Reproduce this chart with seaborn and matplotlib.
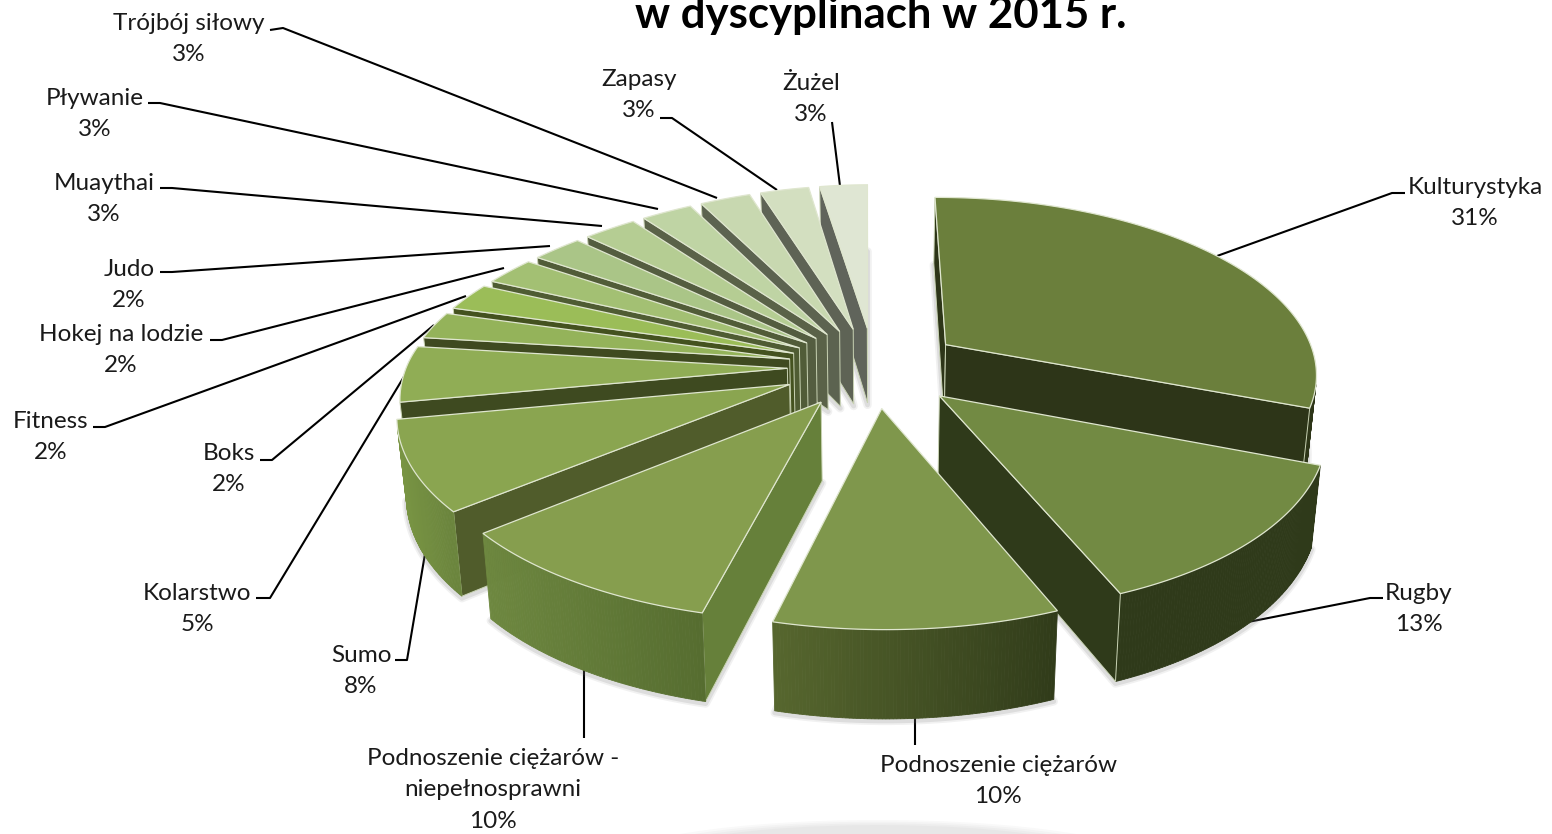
import numpy as np
import pandas as pd
import seaborn as sns
import matplotlib
matplotlib.use('Agg')
import matplotlib.pyplot as plt
from matplotlib.patches import Ellipse

names = ['Kulturystyka', 'Rugby', 'Podnoszenie ciężarów',
         'Podnoszenie ciężarów -\nniepełnosprawni', 'Sumo', 'Kolarstwo', 'Boks',
         'Fitness', 'Hokej na lodzie', 'Judo', 'Muaythai', 'Pływanie',
         'Trójbój siłowy', 'Zapasy', 'Żużel']
# labels only give whole percents, the small slices look closer to 2.4 - 2.7
shares = [30.7, 13.0, 10.0, 10.0, 8.0, 5.0, 2.4, 2.4, 2.4, 2.4, 2.6, 2.6, 2.7, 2.7, 2.7]

top_colors = ['#6b7f3c', '#728a43', '#7f974c', '#869e4e', '#8aa550', '#90ad55', '#94b35a',
              '#9bbd58', '#a3c073', '#aac587', '#b5cd93', '#bfd4a4', '#c8d8b0', '#d3dfc0', '#dfe6d3']
cut_colors = ['#2d3518', '#2f3a1a', '#313c1a', '#66803a', '#505c2b', '#3e4a20', '#3f4a20',
              '#44521f', '#4f5c33', '#515c38', '#545d40', '#5a6248', '#5c6350', '#5e6355', '#60645b']
wall_left = ['#2d3518', '#2f3a1a', '#56662e', '#6e8840', '#7a9644', '#7a9644', '#7a9644',
             '#7a9644', '#7a9644', '#7a9644', '#7a9644', '#7a9644', '#7a9644', '#7a9644', '#7a9644']
wall_right = ['#2d3518', '#2f3a1a', '#313c1a', '#566d30', '#6b853d', '#6b853d', '#6b853d',
              '#6b853d', '#6b853d', '#6b853d', '#6b853d', '#6b853d', '#6b853d', '#6b853d', '#6b853d']

# label centre, then the leader line from the label to the slice
label_xy = [(1475, 203), (1419, 609), (998, 781), (493, 790), (361, 671), (197, 609), (229, 469),
            (51, 437), (121, 350), (129, 285), (104, 199), (95, 114), (189, 39), (639, 95), (811, 99)]
leaders = [[(1405, 193), (1392, 193), (1217, 256)],
           [(1383, 598), (1370, 598), (1248, 622)],
           [(915, 745), (915, 716)],
           [(584, 738), (584, 665)],
           [(395, 660), (407, 660), (426, 548)],
           [(256, 598), (270, 598), (405, 375)],
           [(260, 460), (272, 460), (434, 325)],
           [(93, 427), (105, 427), (466, 296)],
           [(210, 340), (222, 340), (504, 268)],
           [(160, 272), (172, 272), (550, 246)],
           [(160, 188), (172, 188), (602, 226)],
           [(148, 103), (160, 103), (658, 209)],
           [(270, 30), (283, 28), (717, 198)],
           [(660, 118), (672, 118), (777, 190)],
           [(832, 122), (840, 186)]]

df = pd.DataFrame({'name': names, 'share': shares})
df['frac'] = df.share / df.share.sum()
df['start'] = df.frac.cumsum().shift(fill_value=0) * 2 * np.pi
df['end'] = df.frac.cumsum() * 2 * np.pi

# view settings of the 3d pie
cx, cy = 875, 367
a, b = 381, 175
shear = 2
persp = 0.147
depth = 77
explode = 0.23
# the two slices left of the front one sit a bit further out
extra_explode = {3: 0.03, 4: 0.015}


def project(X, Y, Z):
    w = 1 + persp * Y
    # far left slices squeeze together more than plain perspective gives
    wx = w * np.where((X < 0) & (Y > 0), 1 + 0.1 * Y ** 2, 1)
    Xs = X - 0.03 * np.maximum(X - 0.4, 0)
    x = cx + a * Xs / wx - shear * Y / w
    y = cy - b * Y / w
    x = cx + (x - cx) * (1 - 0.02 * Z)
    y = y + depth * Z * (1 - 0.13 * Y)
    return np.column_stack([x, y])


def area(p):
    return 0.5 * np.sum(p[:, 0] * np.roll(p[:, 1], -1) - np.roll(p[:, 0], -1) * p[:, 1])


sns.set_theme(style='white')
plt.rcParams['font.family'] = ['Lato', 'DejaVu Sans']

fig = plt.figure(figsize=(15.52, 8.34), dpi=100, facecolor='white')
ax = fig.add_axes([0, 0, 1, 1])
ax.set_xlim(0, 1552)
ax.set_ylim(834, 0)
ax.axis('off')

# faint floor shadow at the bottom edge
for k, al in zip([1.0, 0.96, 0.92, 0.88], [0.12, 0.14, 0.16, 0.18]):
    ax.add_patch(Ellipse((878, 862), 530 * k, 84 * k, color='#cfcfcf', alpha=al, lw=0, zorder=0))

for line, name, share, xy in zip(leaders, names, shares, label_xy):
    pts = np.array(line)
    ax.plot(pts[:, 0], pts[:, 1], color='black', lw=1.5, zorder=1, solid_capstyle='butt')
    ax.text(xy[0], xy[1], f'{name}\n{share:.0f}%', ha='center', va='center', fontsize=17.5,
            linespacing=1.62, color='#1a1a1a', zorder=3)

ax.text(881, 28, 'w dyscyplinach w 2015 r.', ha='center', va='baseline', fontsize=31.5,
        fontweight='bold', color='black', zorder=3)

# far slices first so the near ones cover them
mid = (df.start + df.end) / 2
order = np.argsort(-np.cos(mid.values))
z = 2
for i in order:
    row = df.iloc[i]
    m = (row.start + row.end) / 2
    ex = (explode + extra_explode.get(i, 0)) * np.sin(m)
    ey = explode * np.cos(m)
    n = max(6, int(row.share * 8))
    t = np.linspace(row.start, row.end, n)
    X = np.r_[ex, ex + np.sin(t)]
    Y = np.r_[ey, ey + np.cos(t)]
    top = project(X, Y, 0 * X)
    bot = project(X, Y, 0 * X + 1)
    sign = np.sign(area(top))

    # soft shadow around the base
    for lw, al in [(6, 0.10), (3.5, 0.16)]:
        ax.fill(bot[:, 0], bot[:, 1] + 2, facecolor='none', edgecolor='#777777', lw=lw, alpha=al,
                zorder=z, joinstyle='round')
    z += 1

    grad = sns.blend_palette([wall_left[i], wall_right[i]], n)
    xr = top[1:, 0]
    m_pts = len(X)
    for j in range(m_pts):
        q = (j + 1) % m_pts
        quad = np.array([top[j], top[q], bot[q], bot[j]])
        if np.sign(area(quad)) == sign:
            continue
        if j == 0 or q == 0:
            ax.fill(quad[:, 0], quad[:, 1], facecolor=cut_colors[i], edgecolor='#c9d3b4', lw=0.7, zorder=z)
        else:
            f = (quad[:, 0].mean() - xr.min()) / max(xr.max() - xr.min(), 1)
            c = grad[min(int(f * n), n - 1)]
            ax.fill(quad[:, 0], quad[:, 1], facecolor=c, edgecolor=c, lw=0.6, zorder=z)
    z += 1
    ax.fill(top[:, 0], top[:, 1], facecolor=top_colors[i], edgecolor='#dfe6cf', lw=0.9, zorder=z,
            joinstyle='miter')
    z += 1

fig.savefig('out.png', dpi=100)
